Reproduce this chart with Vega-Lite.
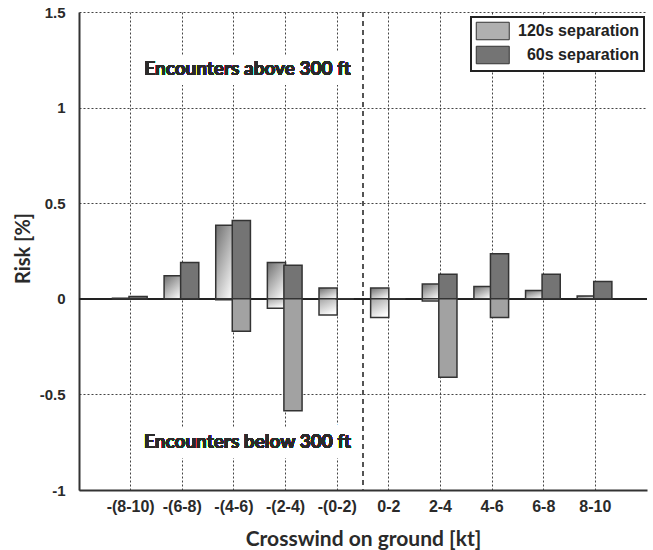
{
  "$schema": "https://vega.github.io/schema/vega-lite/v6.json",
  "width": 568,
  "height": 478,
  "autosize": {"type": "none"},
  "padding": {"left": 79, "top": 12, "right": 6, "bottom": 60},
  "background": "white",
  "config": {
    "view": {"stroke": null},
    "axis": {
      "domainColor": "#333",
      "domainWidth": 2,
      "gridColor": "#444",
      "gridDash": [2, 2],
      "gridWidth": 1,
      "ticks": false,
      "tickSize": 0,
      "labelFont": "Liberation Sans",
      "labelFontWeight": "bold",
      "labelColor": "#2a2a2a",
      "titleFont": "Lato",
      "titleFontWeight": "bold",
      "titleColor": "#2a2a2a"
    },
    "legend": {"strokeWidth": 2}
  },
  "data": {
    "values": [
      {"wind": "-(8-10)", "series": "120s separation", "dir": "above", "risk": 0.003},
      {"wind": "-(8-10)", "series": "60s separation", "dir": "above", "risk": 0.012},
      {"wind": "-(6-8)", "series": "120s separation", "dir": "above", "risk": 0.12},
      {"wind": "-(6-8)", "series": "60s separation", "dir": "above", "risk": 0.19},
      {"wind": "-(4-6)", "series": "120s separation", "dir": "above", "risk": 0.385},
      {"wind": "-(4-6)", "series": "60s separation", "dir": "above", "risk": 0.41},
      {"wind": "-(2-4)", "series": "120s separation", "dir": "above", "risk": 0.19},
      {"wind": "-(2-4)", "series": "60s separation", "dir": "above", "risk": 0.175},
      {"wind": "-(0-2)", "series": "120s separation", "dir": "above", "risk": 0.056},
      {"wind": "-(0-2)", "series": "60s separation", "dir": "above", "risk": 0},
      {"wind": "0-2", "series": "120s separation", "dir": "above", "risk": 0.056},
      {"wind": "0-2", "series": "60s separation", "dir": "above", "risk": 0},
      {"wind": "2-4", "series": "120s separation", "dir": "above", "risk": 0.077},
      {"wind": "2-4", "series": "60s separation", "dir": "above", "risk": 0.128},
      {"wind": "4-6", "series": "120s separation", "dir": "above", "risk": 0.064},
      {"wind": "4-6", "series": "60s separation", "dir": "above", "risk": 0.235},
      {"wind": "6-8", "series": "120s separation", "dir": "above", "risk": 0.043},
      {"wind": "6-8", "series": "60s separation", "dir": "above", "risk": 0.128},
      {"wind": "8-10", "series": "120s separation", "dir": "above", "risk": 0.015},
      {"wind": "8-10", "series": "60s separation", "dir": "above", "risk": 0.09},
      {"wind": "-(8-10)", "series": "120s separation", "dir": "below", "risk": 0},
      {"wind": "-(8-10)", "series": "60s separation", "dir": "below", "risk": 0},
      {"wind": "-(6-8)", "series": "120s separation", "dir": "below", "risk": 0},
      {"wind": "-(6-8)", "series": "60s separation", "dir": "below", "risk": 0},
      {"wind": "-(4-6)", "series": "120s separation", "dir": "below", "risk": -0.005},
      {"wind": "-(4-6)", "series": "60s separation", "dir": "below", "risk": -0.17},
      {"wind": "-(2-4)", "series": "120s separation", "dir": "below", "risk": -0.05},
      {"wind": "-(2-4)", "series": "60s separation", "dir": "below", "risk": -0.585},
      {"wind": "-(0-2)", "series": "120s separation", "dir": "below", "risk": -0.085},
      {"wind": "-(0-2)", "series": "60s separation", "dir": "below", "risk": 0},
      {"wind": "0-2", "series": "120s separation", "dir": "below", "risk": -0.098},
      {"wind": "0-2", "series": "60s separation", "dir": "below", "risk": 0},
      {"wind": "2-4", "series": "120s separation", "dir": "below", "risk": -0.012},
      {"wind": "2-4", "series": "60s separation", "dir": "below", "risk": -0.41},
      {"wind": "4-6", "series": "120s separation", "dir": "below", "risk": 0},
      {"wind": "4-6", "series": "60s separation", "dir": "below", "risk": -0.098},
      {"wind": "6-8", "series": "120s separation", "dir": "below", "risk": 0},
      {"wind": "6-8", "series": "60s separation", "dir": "below", "risk": 0},
      {"wind": "8-10", "series": "120s separation", "dir": "below", "risk": 0},
      {"wind": "8-10", "series": "60s separation", "dir": "below", "risk": 0}
    ]
  },
  "encoding": {
    "x": {
      "field": "wind",
      "type": "nominal",
      "scale": {
        "domain": ["-(8-10)", "-(6-8)", "-(4-6)", "-(2-4)", "-(0-2)", "0-2", "2-4", "4-6", "6-8", "8-10"],
        "paddingInner": 0.36,
        "paddingOuter": 0.68
      },
      "axis": {
        "title": "Crosswind on ground [kt]",
        "labelAngle": 0,
        "labelFontSize": 16,
        "labelPadding": 8,
        "titleFontSize": 21,
        "titleY": 55,
        "titleBaseline": "alphabetic",
        "grid": true,
        "bandPosition": 0.5
      }
    },
    "y": {
      "field": "risk",
      "type": "quantitative",
      "scale": {"domain": [-1, 1.5], "nice": false, "zero": false},
      "axis": {
        "title": "Risk [%]",
        "values": [-1, -0.5, 0, 0.5, 1, 1.5],
        "labelExpr": "datum.value + ''",
        "labelFontSize": 15,
        "labelPadding": 14,
        "titleFontSize": 20,
        "titleX": -46,
        "titleY": 236,
        "titleBaseline": "bottom",
        "grid": true
      }
    },
    "xOffset": {"field": "series", "type": "nominal", "scale": {"domain": ["120s separation", "60s separation"], "paddingInner": 0}}
  },
  "layer": [
    {
      "mark": {"type": "rule", "color": "#222", "strokeWidth": 1.5},
      "encoding": {"x": null, "xOffset": null, "y": {"datum": 0}}
    },
    {
      "transform": [{"filter": "datum.dir == 'above' && datum.series == '120s separation'"}],
      "mark": {"type": "bar", "stroke": "#333", "strokeWidth": 1.5, "width": {"band": 1.1},
        "fill": {"gradient": "linear", "x1": 0, "y1": 0, "x2": 0.7, "y2": 1, "stops": [{"offset": 0, "color": "#6f6f6f"}, {"offset": 1, "color": "#f2f2f2"}]}}
    },
    {
      "transform": [{"filter": "datum.dir == 'below' && datum.series == '120s separation'"}],
      "mark": {"type": "bar", "stroke": "#333", "strokeWidth": 1.5, "width": {"band": 1.1},
        "fill": {"gradient": "linear", "x1": 0, "y1": 0, "x2": 0.5, "y2": 1, "stops": [{"offset": 0, "color": "#a5a5a5"}, {"offset": 1, "color": "#fbfbfb"}]}}
    },
    {
      "transform": [{"filter": "datum.dir == 'above' && datum.series == '60s separation'"}],
      "mark": {"type": "bar", "stroke": "#333", "strokeWidth": 1.5, "width": {"band": 1.1}},
      "encoding": {
        "fill": {
          "field": "series",
          "type": "nominal",
          "scale": {"domain": ["120s separation", "60s separation"], "range": ["#b0b0b0", "#747474"]},
          "legend": {
            "orient": "none",
            "legendX": 392,
            "legendY": 5,
            "title": null,
            "symbolType": "M-1,-1H2.772V1H-1Z",
            "symbolSize": 306.25,
            "symbolStrokeColor": "#333",
            "symbolStrokeWidth": 1,
            "symbolOpacity": 1,
            "labelFont": "Liberation Sans",
            "labelFontWeight": "bold",
            "labelFontSize": 16,
            "labelColor": "#222",
            "labelAlign": "right",
            "labelOffset": 144.5,
            "rowPadding": 1,
            "padding": 4.5,
            "strokeColor": "#222",
            "fillColor": "white"
          }
        }
      }
    },
    {
      "transform": [{"filter": "datum.dir == 'below' && datum.series == '60s separation'"}],
      "mark": {"type": "bar", "stroke": "#333", "strokeWidth": 1.5, "width": {"band": 1.1}, "fill": "#a2a2a2"}
    },
    {
      "mark": {"type": "rule", "color": "#555", "strokeWidth": 1.5, "strokeDash": [5, 4]},
      "encoding": {"x": {"datum": "-(0-2)", "bandPosition": 1.28}, "xOffset": null, "y": null}
    },
    {
      "mark": {"type": "text", "text": "Encounters above 300 ft", "font": "Lato", "fontWeight": "bold", "fontSize": 19, "stroke": "white", "strokeWidth": 20, "strokeJoin": "round", "fill": "white"},
      "encoding": {"x": {"datum": "-(4-6)", "bandPosition": 0.91}, "xOffset": null, "y": {"datum": 1.2}}
    },
    {
      "mark": {"type": "text", "text": "Encounters below 300 ft", "font": "Lato", "fontWeight": "bold", "fontSize": 19, "stroke": "white", "strokeWidth": 20, "strokeJoin": "round", "fill": "white"},
      "encoding": {"x": {"datum": "-(4-6)", "bandPosition": 0.91}, "xOffset": null, "y": {"datum": -0.75}}
    },
    {
      "mark": {"type": "text", "text": "Encounters above 300 ft", "font": "Lato", "fontWeight": "bold", "fontSize": 19, "color": "#2a2a2a"},
      "encoding": {"x": {"datum": "-(4-6)", "bandPosition": 0.91}, "xOffset": null, "y": {"datum": 1.2}}
    },
    {
      "mark": {"type": "text", "text": "Encounters below 300 ft", "font": "Lato", "fontWeight": "bold", "fontSize": 19, "color": "#2a2a2a"},
      "encoding": {"x": {"datum": "-(4-6)", "bandPosition": 0.91}, "xOffset": null, "y": {"datum": -0.75}}
    }
  ]
}
